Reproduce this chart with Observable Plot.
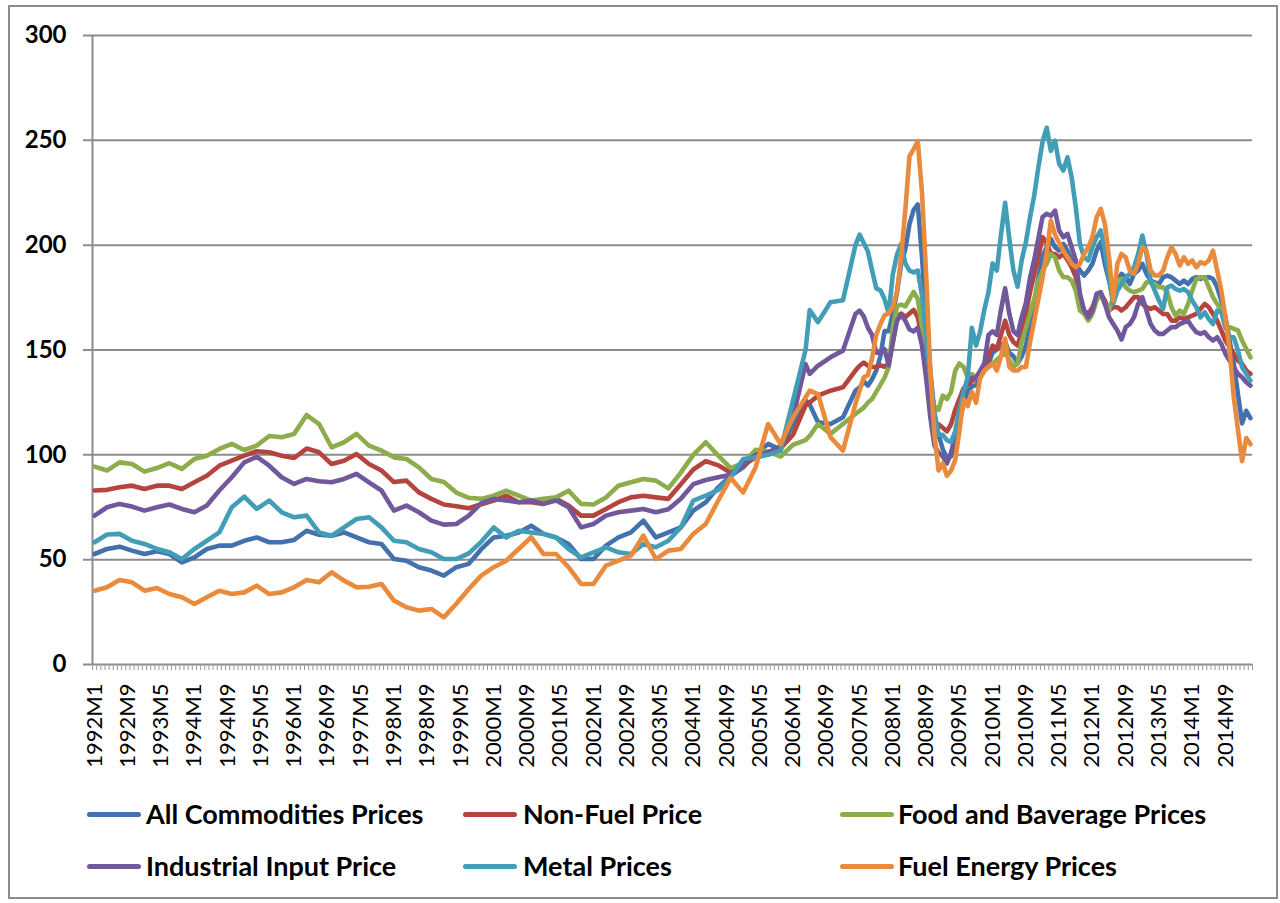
<!DOCTYPE html>
<html>
<head>
<meta charset="utf-8">
<script src="https://cdn.jsdelivr.net/npm/d3@7"></script>
<script src="https://cdn.jsdelivr.net/npm/@observablehq/plot@0.6"></script>
<style>
  body { margin: 0; background: #fff; }
  #wrap { position: relative; width: 1280px; height: 903px; overflow: hidden; font-family: Lato, "Liberation Sans", sans-serif; }
  #frame { position: absolute; left: 8px; top: 5px; width: 1270px; height: 894px; border: 2px solid #8c8c8c; box-sizing: border-box; pointer-events: none; }
  #chart { position: absolute; left: 0; top: 0; }
  .sw { position: absolute; height: 5px; border-radius: 3px; }
  .lab { position: absolute; font-size: 27px; font-weight: bold; color: #000; white-space: nowrap; line-height: 40px; }
</style>
</head>
<body>
<div id="wrap">
  <div id="chart"></div>
  <div id="legend"></div>
  <div id="frame"></div>
</div>
<script>
// ---- Data ----
// Month index counted from 1992M1 (0) to 2015M3 (278)
const firstYear = 1992;
const lastMonth = "2015M3";
const monthIdx = [0,3,6,9,12,15,18,21,24,27,30,33,36,39,42,45,48,51,54,57,60,63,66,69,72,75,78,81,84,87,
  90,93,96,99,102,105,108,111,114,117,120,123,126,129,132,135,138,141,144,147,150,153,156,159,162,165,168,171,172,174,177,180,183,
  184,185,186,187,188,189,190,191,192,193,194,195,196,197,198,199,200,201,202,203,
  204,205,206,207,208,209,210,211,212,213,214,215,216,217,218,219,220,221,222,223,
  224,225,226,227,228,229,230,231,232,233,234,235,236,237,238,239,240,241,242,243,
  244,245,246,247,248,249,250,251,252,253,254,255,256,257,258,259,260,261,262,263,
  264,265,266,267,268,269,270,271,272,273,274,275,276,277,278];

const tickLabels = ["1992M1","1992M9","1993M5","1994M1","1994M9","1995M5","1996M1","1996M9","1997M5","1998M1",
  "1998M9","1999M5","2000M1","2000M9","2001M5","2002M1","2002M9","2003M5","2004M1","2004M9","2005M5","2006M1",
  "2006M9","2007M5","2008M1","2008M9","2009M5","2010M1","2010M9","2011M5","2012M1","2012M9","2013M5","2014M1","2014M9"];

const yTicks = [0, 50, 100, 150, 200, 250, 300];

const seriesNames = ["All Commodities Prices", "Non-Fuel Price", "Food and Baverage Prices",
  "Industrial Input Price", "Metal Prices", "Fuel Energy Prices"];
const seriesColors = ["#4371AE", "#B5443F", "#8DAD4D", "#71579B", "#429DB7", "#E98A3C"];

const allCommodities = [
  52.7,55.1,56.2,54.3,52.7,54,52.7,48.7,51.1,55.1,
  56.7,56.7,59,60.6,58.3,58.3,59.4,63.8,61.9,61.4,
  63,60.6,58.3,57.5,50.3,49.5,46.4,44.8,42.4,46.4,
  48,55,60.6,61.4,63,66.2,62.3,60.6,57.5,50.3,
  50.3,56.7,60.6,63,68.6,60.6,63,65.4,73.4,77.4,
  84.5,90,94,100.4,105.2,102.5,114.7,125.9,124,115.5,114.7,117.9,130.6,
  132,135,133,136,140.2,147,159,159,167.4,177.7,
  191.3,198.1,210,216.8,219.4,194.7,164,140.2,119.8,109.5,
  102.7,98.5,99.3,106.1,114.6,124.9,130,132.5,133.4,136.8,
  140.2,143.6,148.7,150.4,152.1,153.8,148.7,147,143.6,147,
  152.1,162.3,172.5,184.5,194.7,199,203,199,197.4,200.6,
  197.4,192.7,191.1,187.9,185.5,187.9,191.1,197.4,201.4,191.1,
  183.1,173.6,183.1,186.3,184.7,181.5,186.3,187.9,191.1,186.3,
  183.1,182.3,181.5,184.7,185.5,184.7,183.1,181.5,183.1,181.5,
  183.9,184.7,183.9,184.7,184.7,183.9,179.9,173.6,165.6,154.5,
  143.4,129,115,121,117.5];

const nonFuel = [
  83,83.3,84.5,85.3,83.7,85.3,85.3,83.7,86.9,90,
  94.8,97.2,99.6,101.7,101.2,99.6,98.5,103,101.2,95.6,
  97.2,100.4,95.6,92.5,87,87.7,82.1,79,76.3,75.5,
  74.5,76.4,78.2,80.5,77.4,77.4,76.6,79,75.8,71,
  71,74.2,77.4,79.7,80.5,79.7,79,86,93,97,
  95,91.5,95,98.8,100.8,103.2,109.6,123.5,125,128.2,130.6,132.2,140.2,
  142.5,144,142.5,142,141.9,142.7,142,143.6,153.8,165.7,
  167.4,165.7,167.4,169.1,165.7,155.5,140.2,123.2,114.6,114.6,
  112.9,111.2,114.6,121.5,126.6,131.7,133.4,135.1,136.8,138.5,
  140.2,147,152.1,150.4,157.2,164,157.2,153.8,152.1,159,
  167.4,177.7,186.2,194.7,203.8,201,196,195.8,194.2,195.8,
  193,189.5,184.7,175.2,168.8,167.2,170.4,175.2,176.8,173.6,
  168.8,170.4,170.4,168.8,170.4,172.8,175.2,175.2,172,170.4,
  169.6,170.4,168.8,167.2,167.2,164,164,165.6,164.8,165.6,
  166.4,167.2,169.6,172,170.4,167.2,164,159.3,154.5,151.3,
  148.1,144.9,143.4,140.2,138.6];

const foodBeverage = [
  94.4,92.5,96.4,95.6,92,93.7,96,93.3,98,99.6,
  102.8,105.2,102.3,104.4,109,108.4,110,119,114.7,103.6,
  106,110,104.4,102,98.8,98,94,88.5,87,82,
  79.5,79,80.5,82.9,80.5,78.2,79,79.7,82.9,76.6,
  76.3,79.7,85.3,86.9,88.5,87.7,84,91.5,100,106,
  99.6,93.7,96,102.4,101.6,99.2,104.8,107,109,114.7,110,114.7,119.5,
  121,122.5,124.9,126.6,130,133.4,136.8,141.9,160.6,170.8,
  171.7,170.8,174.3,177.7,174.3,160.6,143.6,126.6,123.2,121.5,
  128.3,126.6,130,140.2,143.6,141.9,136.8,138.5,136.8,136.8,
  140.2,141.9,143.6,145.3,147,148.7,145.3,141.9,143.6,153.8,
  160.6,167.4,174.3,182.8,187.9,191.1,195.8,194.2,187.9,184.7,
  184.7,183.1,178.3,168.8,167.2,164,167.2,173.6,176.8,172,
  168.8,175.2,183.1,183.9,179.9,178.3,177.6,178.3,179.1,182.3,
  182.3,181.5,179.9,179.9,177.6,170.4,166.4,168.8,167.2,172,
  178.3,183.9,184.7,184.7,179.9,175.2,172,168.8,160.9,160.9,
  160.1,159.3,154.5,150.5,146.5];

const industrialInput = [
  71,75,76.6,75.3,73.4,75,76.3,74.2,72.6,75.8,
  83,89.3,96.4,99.1,94.8,89.3,86.1,88.5,87.4,86.9,
  88.5,90.9,86.9,83,73.4,75.8,72.6,68.6,66.7,67,
  71,77,79,78.2,77.4,78.2,76.6,78.2,75,65.4,
  67,71,72.6,73.4,74.2,72.6,74,79,86,88,
  89.3,90.5,95.6,100,101.2,104,117.9,143.3,138.6,142.5,146.5,149.7,167.2,
  168.8,166,160.6,157.2,148.7,148.7,150.4,142.7,153.8,164,
  166.6,164,159.8,158.9,160.6,152.1,136.8,118.1,104.4,101,
  99.3,95.9,101,109.5,119.8,130,135.1,136.8,136.8,140.2,
  143.6,157.2,158.9,157.2,169.1,179.4,167.4,158.9,157.2,165.7,
  172.5,184.5,193,203.2,213.4,215,214,216.5,207,203.8,
  205.4,199,192.7,176.8,168.8,165.6,168.8,176.8,177.6,172,
  165.6,162.4,159.3,155,160.9,162.4,165.6,172,175.2,168.8,
  162.4,159.3,157.7,157.7,159.3,160.9,160.9,162.4,163.2,164,
  160.9,158.5,157.7,158.5,156.1,154.5,156.1,152.9,148.1,144.9,
  141.8,138.6,137,134.6,133];

const metals = [
  58.3,62,62.3,59,57.5,55.1,53.5,50.3,55.1,59,
  63,75,80,74.2,78.2,72.6,70.2,71,63,61.4,
  65.4,69.4,70.2,65.4,59,58.3,55.1,53.5,50.3,50.3,
  53,58.5,65.4,60.6,63.8,63,62.3,60.6,55.1,51.1,
  53.5,55.9,53.5,52.7,57.5,55.9,59,65.4,78.2,80.5,
  83.3,89.3,98,98.8,100,102,126,150,169,163.3,172.8,173.7,200,
  205,201,197,188,179.4,178.5,174.3,167.4,186.2,195.5,
  200.6,191.3,187.9,187,187.9,176,157.2,136.8,119.8,109.5,
  109.5,107,106.1,111.2,121.5,130,136.8,160.6,152.1,158.9,
  169.2,177.7,191.3,187.9,204.9,220.2,203.2,187.9,180.2,193,
  201.5,213.4,223.6,237.3,249.2,256,245,249.9,238.8,235.6,
  241.9,232.4,218,200.6,194.2,192.7,199,203.8,207,197.4,
  184.7,172,178.3,181.5,184.7,186.3,189.5,195.8,204.6,195.8,
  183.1,178.3,173.6,169.6,179.9,180.7,179.1,178.3,179.1,177.6,
  173.6,170.4,165.6,168,164.8,162.4,168.8,168,160.9,156.1,
  156.1,149.7,141.8,138.6,135.4];

const fuelEnergy = [
  35.2,36.8,40.3,39.2,35.2,36.5,33.6,32.1,28.9,32.1,
  35.2,33.6,34.4,37.6,33.6,34.4,36.8,40.3,39.2,44,
  40,36.8,37.1,38.4,30.5,27.3,25.7,26.5,22.5,29,
  36,42.4,46.4,49.5,55.1,60.7,52.7,52.7,46.4,38.4,
  38.4,47.2,49.5,51.9,61.5,50.3,54.3,55.1,62.3,67,
  78.2,89,82,94.1,114.7,105.2,117.9,127.4,130.6,129,108.4,102,124.3,
  130.6,137,138,146,157.2,162.3,166.6,167.4,170.8,177.7,
  194.7,216.8,242.4,245.8,249.5,225.3,186.2,140.2,109.5,92.5,
  95.9,90,92.5,97.6,111.2,126.6,123.2,130,124.9,136.8,
  140.2,141.9,143.6,140.2,147,155.5,141.9,140.2,140.2,141.9,
  141.9,153.8,164,174.3,184.5,196.4,211.7,205,201,197.4,
  194.2,191.1,189.5,191.1,195.8,199,203.8,213.3,217.3,210.1,
  194.2,173.6,191.1,195.8,194.2,187.9,186.3,191.1,199,197.4,
  187.9,185.5,185.5,187.9,194.2,199,195.8,190.3,194.2,191.1,
  192.7,189.5,191.9,191.1,192.7,197.4,187.9,178.3,165.6,149.7,
  127.5,112,97,108,105];

// ---- Build ----
const seriesValues = [allCommodities, nonFuel, foodBeverage, industrialInput, metals, fuelEnergy];
seriesValues.forEach((arr, k) => {
  if (arr.length !== monthIdx.length) throw new Error(seriesNames[k] + " length " + arr.length + " vs " + monthIdx.length);
});

const toIdx = (label) => { const [y, m] = label.split("M").map(Number); return (y - firstYear) * 12 + (m - 1); };
const nCat = toIdx(lastMonth) + 1;
const boundaries = d3.range(nCat + 1).map(i => i - 0.5);

const rows = seriesNames.map((name, k) => monthIdx.map((m, j) => ({name, m, v: seriesValues[k][j]})));

const W = 1280, H = 790;
const mL = 92, mR = 28, mT = 35, mB = 126;
const pxPerUnit = (H - mT - mB) / 300;

const chart = Plot.plot({
  width: W, height: H,
  marginLeft: mL, marginRight: mR, marginTop: mT, marginBottom: mB,
  x: {domain: [-0.5, nCat - 0.5], axis: null},
  y: {domain: [0, 300], axis: null},
  style: {background: "transparent", overflow: "visible", fontFamily: "Lato, 'Liberation Sans', sans-serif"},
  marks: [
    Plot.ruleY(yTicks, {stroke: "#8c8c8c", strokeWidth: 2, insetLeft: -9}),
    Plot.ruleX([-0.5], {y1: 0, y2: 300, stroke: "#8c8c8c", strokeWidth: 2}),
    Plot.ruleX(boundaries, {x: d => d, y1: 0, y2: -6 / pxPerUnit, stroke: "#9a9a9a", strokeWidth: 1}),
    Plot.text(yTicks, {x: -0.5, y: d => d, text: d => String(d), textAnchor: "end", dx: -26, fontSize: 24, fontWeight: "bold", fill: "#000"}),
    Plot.text(tickLabels, {x: d => toIdx(d), y: 0, text: d => d, rotate: -90, textAnchor: "end", dy: 19, fontSize: 22, fill: "#000"}),
    ...rows.map((r, k) => Plot.line(r, {x: "m", y: "v", stroke: seriesColors[k], strokeWidth: 4.6, strokeLinejoin: "round", strokeLinecap: "round"}))
  ]
});
document.getElementById("chart").appendChild(chart);

// ---- Legend (HTML, below the SVG) ----
const legCols = [{sw: 87, tx: 146}, {sw: 463, tx: 523}, {sw: 840, tx: 898}];
const legRows = [814, 866];
const legend = d3.select("#legend");
seriesNames.forEach((name, k) => {
  const c = legCols[k % 3], y = legRows[Math.floor(k / 3)];
  legend.append("div").attr("class", "sw")
    .style("left", c.sw + "px").style("width", "54px").style("top", (y - 2.5) + "px")
    .style("background", seriesColors[k]);
  legend.append("div").attr("class", "lab")
    .style("left", c.tx + "px").style("top", (y - 20) + "px").text(name);
});
</script>
</body>
</html>
